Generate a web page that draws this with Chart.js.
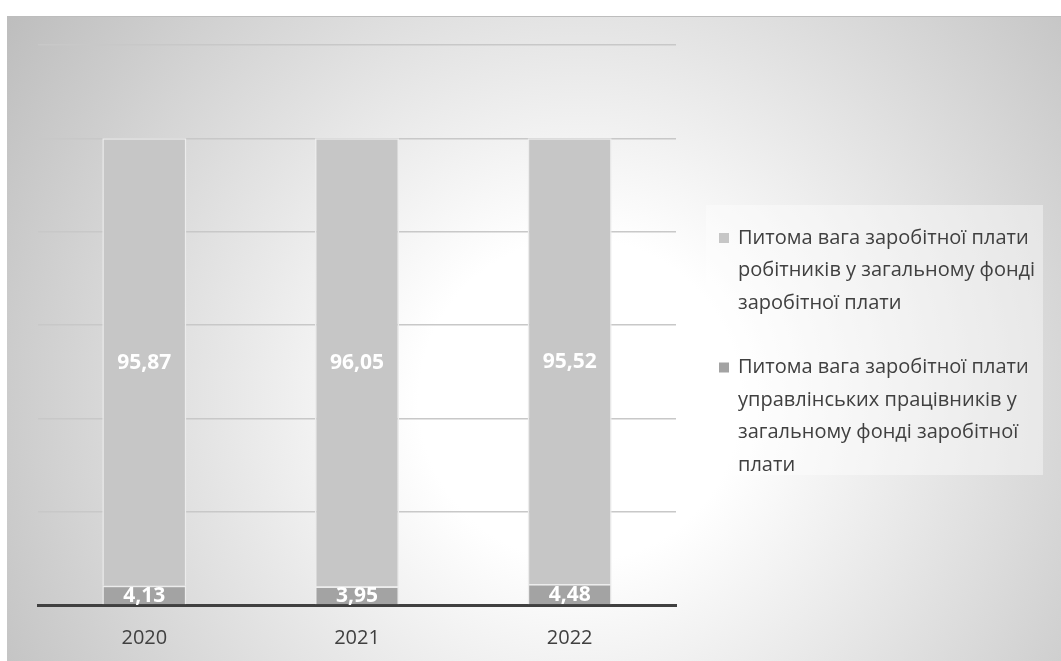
<!DOCTYPE html>
<html>
<head>
<meta charset="utf-8">
<script src="https://cdn.jsdelivr.net/npm/chart.js@4/dist/chart.umd.min.js"></script>
<style>
  html, body { margin: 0; padding: 0; background: #fff; }
  canvas { display: block; }
</style>
</head>
<body>
<canvas id="grafik" width="1061" height="661"></canvas>
<script>
const roky = ['2020', '2021', '2022'];
const robitnyky = [95.87, 96.05, 95.52];
const upravlinski = [4.13, 3.95, 4.48];
const nazvy = [
  ['Питома вага заробітної плати', 'робітників у загальному фонді', 'заробітної плати'],
  ['Питома вага заробітної плати', 'управлінських працівників у', 'загальному фонді заробітної', 'плати']
];
const kolory = ['#a3a3a3', '#c6c6c6'];

const shryft = '"Open Sans", "DejaVu Sans", sans-serif';

// фон з радіальним градієнтом
const tlo = {
  id: 'tlo',
  beforeDraw(chart) {
    const ctx = chart.ctx;
    ctx.save();
    ctx.fillStyle = '#ffffff';
    ctx.fillRect(0, 0, chart.width, chart.height);
    const g = ctx.createRadialGradient(580, 400, 0, 580, 400, 700);
    g.addColorStop(0, '#ffffff');
    g.addColorStop(0.23, '#ffffff');
    g.addColorStop(1, '#bcbcbc');
    ctx.fillStyle = g;
    ctx.fillRect(7, 16, chart.width - 7, chart.height - 16);
    ctx.fillStyle = '#bdbdbd';
    ctx.fillRect(7, 16, chart.width - 7, 1);
    ctx.restore();
  }
};

// підписи значень у стовпцях
const znachennya = {
  id: 'znachennya',
  afterDatasetsDraw(chart) {
    const ctx = chart.ctx;
    ctx.save();
    ctx.font = 'bold 21px ' + shryft;
    ctx.fillStyle = '#ffffff';
    ctx.textAlign = 'center';
    ctx.textBaseline = 'middle';
    chart.data.datasets.forEach((ds, i) => {
      chart.getDatasetMeta(i).data.forEach((bar, j) => {
        const t = ds.data[j].toFixed(2).replace('.', ',');
        ctx.fillText(t, bar.x, (bar.y + bar.base) / 2 + 1);
      });
    });
    ctx.restore();
  }
};

// легенда праворуч
const lehenda = {
  id: 'lehenda',
  afterDraw(chart) {
    const ctx = chart.ctx;
    ctx.save();
    ctx.fillStyle = 'rgba(255,255,255,0.4)';
    ctx.fillRect(706, 205, 337, 270);
    ctx.font = '20px ' + shryft;
    ctx.textBaseline = 'middle';
    const porjadok = [1, 0];
    let y = 238;
    porjadok.forEach((i) => {
      const ds = chart.data.datasets[i];
      ctx.fillStyle = ds.backgroundColor;
      ctx.fillRect(719, y - 5, 10, 10);
      ctx.fillStyle = '#404040';
      ds.label.forEach((ryadok, n) => {
        ctx.fillText(ryadok, 738, y + n * 32.5);
      });
      y += ds.label.length * 32.5 + 32;
    });
    ctx.restore();
  }
};

new Chart(document.getElementById('grafik'), {
  type: 'bar',
  data: {
    labels: roky,
    datasets: [
      {
        label: nazvy[1],
        data: upravlinski,
        backgroundColor: kolory[0],
        borderColor: '#ececec',
        borderWidth: 1.5
      },
      {
        label: nazvy[0],
        data: robitnyky,
        backgroundColor: kolory[1],
        borderColor: '#ececec',
        borderWidth: 1.5
      }
    ]
  },
  options: {
    responsive: false,
    animation: false,
    devicePixelRatio: 1,
    layout: { padding: { left: 38, right: 385, top: 45, bottom: -2 } },
    plugins: {
      legend: { display: false },
      tooltip: { enabled: false }
    },
    datasets: {
      bar: { categoryPercentage: 1, barPercentage: 0.395 }
    },
    scales: {
      x: {
        stacked: true,
        grid: { display: false },
        border: { color: '#404040', width: 3 },
        ticks: { color: '#404040', font: { family: shryft, size: 20 }, padding: 13 }
      },
      y: {
        stacked: true,
        min: 0,
        max: 120,
        ticks: { display: false, stepSize: 20 },
        grid: { color: '#c8c8c8', lineWidth: 1.5, drawTicks: false },
        border: { display: false }
      }
    }
  },
  plugins: [tlo, znachennya, lehenda]
});
</script>
</body>
</html>
